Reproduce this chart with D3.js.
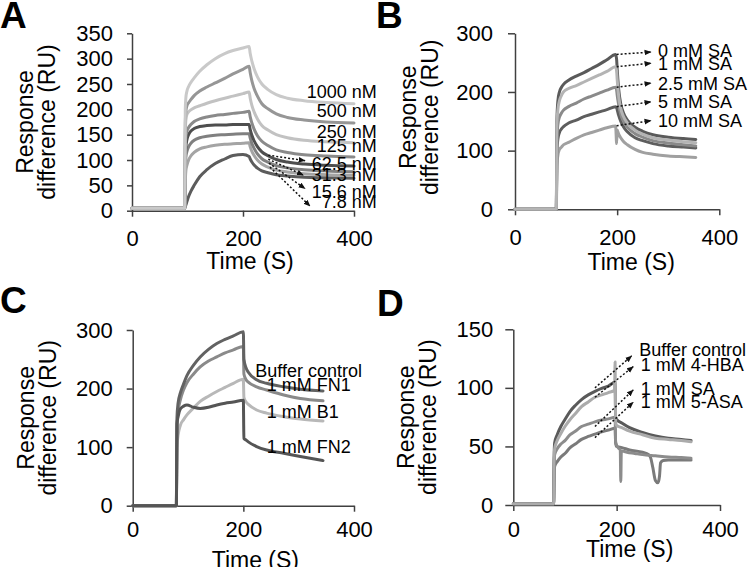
<!DOCTYPE html>
<html><head><meta charset="utf-8">
<script src="https://cdn.jsdelivr.net/npm/d3@7"></script>
<style>
body{margin:0;background:#fff;}
svg{display:block;font-family:"Liberation Sans",Arial,Helvetica,sans-serif;}
</style></head><body>
<svg id="chart" width="750" height="567"></svg>
<script>
// ---------------- DATA ----------------
const xTicks = [0, 200, 400];
const aYTicks = [0, 50, 100, 150, 200, 250, 300, 350];
const bYTicks = [0, 100, 200, 300];
const cYTicks = [0, 100, 200, 300];
const dYTicks = [0, 50, 100, 150];

// Panel A: concentration series (nM)
const aNames = ["1000 nM", "500 nM", "250 nM", "125 nM", "62.5 nM", "31.3 nM", "15.6 nM", "7.8 nM"];
const aTime = [0, 95, 96, 97, 99, 102, 106, 112, 122, 135, 150, 167, 182, 200, 211, 213, 216, 220, 226, 234, 245, 260, 280, 310, 350, 400];
const a1000 = [5, 5, 200, 222, 236, 245, 253, 262, 275, 288, 300, 310, 316, 321, 324, 310, 295, 280, 264, 250, 239, 229, 222, 217, 213.5, 211];
const a500  = [5, 5, 170, 195, 207, 213, 219, 227, 236, 244, 252, 261, 270, 279, 285, 272, 256, 241, 226, 211, 201, 191, 184, 179, 175, 173];
const a250  = [5, 5, 150, 178, 190, 195, 199, 203, 207, 212, 217, 222, 226, 231, 234, 222, 208, 195, 181, 168, 159, 150, 144, 139, 136, 134];
const a125  = [5, 5, 120, 145, 157, 164, 170, 176, 181, 185, 188, 190, 192, 194, 196, 185, 173, 161, 148, 137, 128.5, 120, 115, 110.5, 108, 106];
const a62   = [5, 5, 100, 125, 140, 150, 157, 162, 166, 168, 169, 169, 170, 170, 170, 160, 149, 138, 126.5, 116, 108.5, 101, 96, 92, 89.5, 88];
const a31   = [5, 5, 80, 105, 117, 126, 133, 139, 144, 147, 149, 150, 151, 152, 152, 143, 132.5, 123, 112, 102.5, 96, 89, 84.5, 81, 78.5, 77];
const a15   = [5, 5, 55, 78, 90, 100, 108, 115, 122, 126, 129, 131, 132, 133, 134, 126, 117, 109, 100, 92, 86, 80, 76.5, 73, 71, 70];
const a7    = [5, 5, 7, 11, 18, 28, 38, 50, 67, 81, 93, 102, 109, 111, 107, 102, 96, 90, 84, 78.5, 75, 71, 68.5, 66, 65, 64];

// Panel B: SA concentrations
const bNames = ["0 mM SA", "1 mM SA", "2.5 mM SA", "5 mM SA", "10 mM SA"];
const bTime = [0, 81, 82, 84, 87, 91, 95, 105, 120, 135, 150, 165, 180, 197, 199, 200, 203, 207, 212, 220, 235, 250, 270, 300, 330, 354];
const b0   = [0, 0, 150, 185, 200, 208, 213, 220, 227, 233, 240, 247, 255, 264, 255, 240, 205, 180, 165, 152, 140, 133, 127, 123, 120.5, 119];
const b1   = [0, 0, 140, 170, 185, 194, 200, 206, 211, 217, 223, 229, 235, 243, 235, 222, 193, 172, 159, 147, 135, 128, 122, 118, 115, 113.5];
const b2_5 = [0, 0, 120, 145, 157, 164, 169, 175, 181, 188, 193, 198, 203, 208, 203, 195, 178, 162, 151, 140, 129, 123, 117, 113, 110, 108];
const b5   = [0, 0, 100, 120, 131, 137, 141, 147, 152, 158, 162, 166, 170, 175, 173, 170, 160, 150, 141, 132, 122, 117, 112, 108, 106, 104.5];
const b10  = [0, 0, 75, 92, 102, 106, 110, 114, 121, 127, 131, 135, 139, 142, 112, 135, 128, 122, 116, 110, 102, 97, 94, 91, 89.5, 88.5];

// Panel C
const cNames = ["Buffer control", "1 mM FN1", "1 mM B1", "1 mM FN2"];
const cTime = [0, 79, 80, 82, 86, 92, 98, 110, 122, 137, 152, 167, 182, 200, 201, 205, 209, 224, 242, 273, 303, 344];
const cBuffer = [0, 0, 150, 175, 192, 208, 222, 240, 254, 267, 277, 284, 290, 297, 250, 235, 228, 215, 209, 203, 199, 196];
const cFN1    = [0, 0, 130, 160, 180, 198, 210, 225, 237, 247, 254, 261, 266, 272, 225, 215, 211, 203, 197.6, 189, 183, 179];
const cB1     = [0, 0, 100, 120, 137, 147, 155, 167, 178, 187, 195, 202, 209, 216, 185, 177, 173, 163.4, 158, 152, 148, 144.6];
const cFN2    = [0, 0, 140, 152, 165, 170, 172, 168, 166, 168, 172, 175, 177, 180, 115, 112, 109, 101, 95, 89.5, 84, 77];

// Panel D
const dNames = ["Buffer control", "1 mM 4-HBA", "1 mM SA", "1 mM 5-ASA"];
const dBufferT = [0, 78, 79, 80, 85, 92, 100, 110, 120, 132, 145, 158, 171, 184, 197, 198, 200, 210, 225, 250, 275, 300, 325, 344];
const dBufferV = [1, 1, 40, 53, 60, 67, 73, 80, 85, 90, 94, 97, 99.5, 101.5, 105, 75, 73, 70, 66, 62, 59, 57, 56, 55];
const dHBAT = [0, 78, 79, 80, 85, 92, 100, 110, 120, 132, 145, 158, 171, 184, 196, 197, 198, 200, 210, 225, 250, 275, 300, 325, 344];
const dHBAV = [1, 1, 38, 48, 55, 61, 67, 73, 78, 84, 88, 92, 94, 96, 98, 122, 70, 68, 66, 63, 60, 57, 56, 55, 54];
const dSAT = [0, 78, 79, 80, 85, 92, 100, 110, 120, 132, 145, 158, 171, 184, 197, 198, 200, 205, 207, 208, 209, 211, 220, 235, 250, 275, 300, 325, 344];
const dSAV = [1, 1, 35, 43, 48, 52, 55, 60, 63, 67, 69, 71, 72.5, 73.5, 75, 54, 51, 48, 47, 20, 45, 46, 45, 44, 43, 42, 41, 40.5, 40];
const dASAT = [0, 78, 79, 80, 85, 92, 100, 110, 120, 132, 145, 158, 171, 184, 197, 198, 200, 210, 225, 250, 262, 266, 270, 275, 280, 283, 285, 290, 300, 325, 344];
const dASAV = [1, 1, 25, 33, 37, 41, 44, 49, 52, 56, 58.5, 60.5, 62.5, 64, 65.5, 53, 50, 49, 47, 45, 43, 40, 32, 21, 19, 25, 36, 38, 38.5, 38.5, 38.5];

// ---------------- DRAWING ----------------
const svg = d3.select("#chart");
const defs = svg.append("defs");
defs.append("marker").attr("id", "ah")
  .attr("viewBox", "0 0 10 10").attr("refX", 9).attr("refY", 5)
  .attr("markerWidth", 7).attr("markerHeight", 7)
  .attr("markerUnits", "userSpaceOnUse").attr("orient", "auto")
  .append("path").attr("d", "M0,1 L10,5 L0,9 Z").attr("fill", "#111");

const zip = (t, v) => t.map((d, i) => [d, v[i]]);

const panels = [
  {
    letter: "A", lx: 0, ly: 28,
    x0: 132, x1: 354, y0: 210.7, y1: 33.3, ymax: 350, yTicks: aYTicks,
    yTickLen: 5, yPad: 14, xTickLen: 6, xPad: 14, titleDx: 7, titleDy: 58, yTitleDy: 0,
    // draw order: bottom to top
    series: [
      {name: aNames[7], pts: zip(aTime, a7), color: "#5c5c5c"},
      {name: aNames[6], pts: zip(aTime, a15), color: "#a4a4a4"},
      {name: aNames[5], pts: zip(aTime, a31), color: "#808080"},
      {name: aNames[4], pts: zip(aTime, a62), color: "#4e4e4e"},
      {name: aNames[3], pts: zip(aTime, a125), color: "#8a8a8a"},
      {name: aNames[2], pts: zip(aTime, a250), color: "#c2c2c2"},
      {name: aNames[1], pts: zip(aTime, a500), color: "#969696"},
      {name: aNames[0], pts: zip(aTime, a1000), color: "#c9c9c9"}
    ],
    labels: aNames.map((n, i) => ({text: n, anchor: "end", pos: [[441, 221.6], [441, 184], [441, 143], [441, 116], [441, 80], [441, 59], [441, 26], [441, 4.7]][i]})),
    arrows: [
      [[245.6, 109.5], [311.7, 98.7]],
      [[245.6, 101.7], [308.6, 70.2]],
      [[246.8, 93.8], [311.7, 43.6]],
      [[248.6, 85.9], [320.7, 9.2]]
    ]
  },
  {
    letter: "B", lx: 376, ly: 28,
    x0: 515, x1: 719.3, y0: 209.3, y1: 33.3, ymax: 300, yTicks: bYTicks,
    yTickLen: 7, yPad: 15, xTickLen: 6, xPad: 14, titleDx: 14, titleDy: 61, yTitleDy: -4,
    series: [
      {name: bNames[3], pts: zip(bTime, b5), color: "#5e5e5e"},
      {name: bNames[4], pts: zip(bTime, b10), color: "#a0a0a0"},
      {name: bNames[2], pts: zip(bTime, b2_5), color: "#8a8a8a"},
      {name: bNames[0], pts: zip(bTime, b0), color: "#5a5a5a"},
      {name: bNames[1], pts: zip(bTime, b1), color: "#b4b4b4"}
    ],
    labels: bNames.map((n, i) => ({text: n, anchor: "start", pos: [[280, 259], [280, 237.4], [280, 203], [280, 172], [280, 139.8]][i]})),
    arrows: [
      [[199, 264], [266, 268]],
      [[199, 243], [266, 249]],
      [[199, 208], [266, 215]],
      [[199, 175], [266, 183]],
      [[199, 142.5], [266, 151]]
    ]
  },
  {
    letter: "C", lx: 0, ly: 313,
    x0: 132.7, x1: 354, y0: 505.7, y1: 330, ymax: 300, yTicks: cYTicks,
    yTickLen: 6, yPad: 14, xTickLen: 6, xPad: 9.5, titleDx: 12, titleDy: 62, yTitleDy: 0,
    series: [
      {name: cNames[2], pts: zip(cTime, cB1), color: "#b8b8b8"},
      {name: cNames[1], pts: zip(cTime, cFN1), color: "#8a8a8a"},
      {name: cNames[0], pts: zip(cTime, cBuffer), color: "#626262"},
      {name: cNames[3], pts: zip(cTime, cFN2), color: "#555555"}
    ],
    labels: cNames.map((n, i) => ({text: n, anchor: "start", pos: [[221.4, 220], [242.5, 195.9], [242.5, 149.2], [242.5, 89.5]][i]})),
    arrows: []
  },
  {
    letter: "D", lx: 377, ly: 316,
    x0: 513.3, x1: 720, y0: 505, y1: 329.3, ymax: 150, yTicks: dYTicks,
    yTickLen: 8, yPad: 12, xTickLen: 6, xPad: 10, titleDx: 13, titleDy: 52, yTitleDy: 0,
    series: [
      {name: dNames[3], pts: zip(dASAT, dASAV), color: "#7a7a7a"},
      {name: dNames[2], pts: zip(dSAT, dSAV), color: "#8c8c8c"},
      {name: dNames[0], pts: zip(dBufferT, dBufferV), color: "#5a5a5a"},
      {name: dNames[1], pts: zip(dHBAT, dHBAV), color: "#ababab"}
    ],
    labels: dNames.map((n, i) => ({text: n, anchor: "start", pos: [[243.8, 127.5], [246.5, 114.4], [246.5, 94], [246.5, 82.6]][i]})),
    arrows: [
      [[158, 100], [229, 127.3]],
      [[158, 92], [232, 118.1]],
      [[158, 67], [232, 98.2]],
      [[158, 57.5], [232, 87.7]]
    ]
  }
];

panels.forEach(p => {
  const x = d3.scaleLinear().domain([0, 400]).range([p.x0, p.x1]);
  const y = d3.scaleLinear().domain([0, p.ymax]).range([p.y0, p.y1]);
  const g = svg.append("g");

  // axes
  const xa = g.append("g").attr("transform", `translate(0,${p.y0})`)
    .call(d3.axisBottom(x).tickValues(xTicks).tickSize(p.xTickLen).tickSizeOuter(0).tickPadding(p.xPad));
  const ya = g.append("g").attr("transform", `translate(${p.x0},0)`)
    .call(d3.axisLeft(y).tickValues(p.yTicks).tickSize(p.yTickLen).tickSizeOuter(0).tickPadding(p.yPad));
  [xa, ya].forEach(a => {
    a.selectAll("path.domain").attr("stroke", "#404040").attr("stroke-width", 1.5);
    a.selectAll(".tick line").attr("stroke", "#404040").attr("stroke-width", 1.5);
    a.selectAll(".tick text").attr("fill", "#000").style("font-size", "22px")
      .style("font-family", '"Liberation Sans",Arial,sans-serif');
  });

  // curves
  const line = d3.line().x(d => x(d[0])).y(d => y(d[1])).curve(d3.curveMonotoneX);
  g.selectAll("path.series").data(p.series).join("path")
    .attr("class", "series")
    .attr("d", d => line(d.pts))
    .attr("fill", "none")
    .attr("stroke", d => d.color)
    .attr("stroke-width", 3)
    .attr("stroke-linejoin", "round")
    .attr("stroke-linecap", "round");

  // arrows
  g.selectAll("line.arrow").data(p.arrows).join("line")
    .attr("class", "arrow")
    .attr("x1", d => x(d[0][0])).attr("y1", d => y(d[0][1]))
    .attr("x2", d => x(d[1][0])).attr("y2", d => y(d[1][1]))
    .attr("stroke", "#111").attr("stroke-width", 1.5)
    .attr("stroke-dasharray", "2,2")
    .attr("marker-end", "url(#ah)");

  // labels
  g.selectAll("text.lab").data(p.labels).join("text")
    .attr("class", "lab")
    .attr("x", d => x(d.pos[0])).attr("y", d => y(d.pos[1]))
    .attr("text-anchor", d => d.anchor)
    .style("font-size", "18px").attr("fill", "#000")
    .text(d => d.text);

  // axis titles
  const yc = (p.y0 + p.y1) / 2 + p.yTitleDy;
  g.append("text").attr("transform", `translate(${p.x0 - 99},${yc}) rotate(-90)`)
    .attr("text-anchor", "middle").style("font-size", "23px").text("Response");
  g.append("text").attr("transform", `translate(${p.x0 - 77},${yc}) rotate(-90)`)
    .attr("text-anchor", "middle").style("font-size", "23px").text("difference (RU)");
  g.append("text").attr("x", (p.x0 + p.x1) / 2 + p.titleDx).attr("y", p.y0 + p.titleDy)
    .attr("text-anchor", "middle").style("font-size", "23px").text("Time (S)");

  // panel letter
  g.append("text").attr("x", p.lx).attr("y", p.ly)
    .style("font-size", "37px").style("font-weight", "bold").text(p.letter);
});
</script>
</body></html>
